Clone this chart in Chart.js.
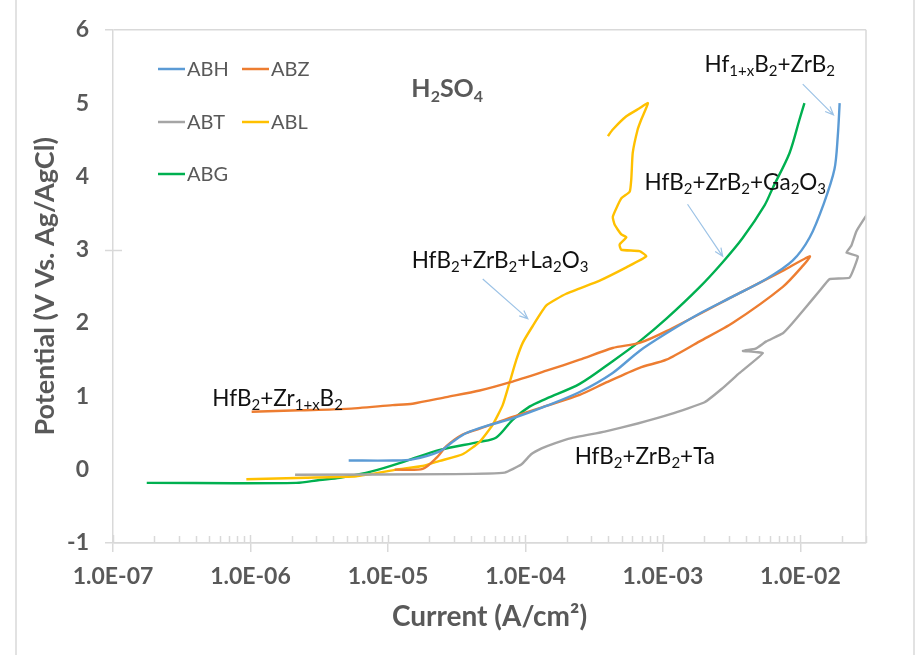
<!DOCTYPE html>
<html>
<head>
<meta charset="utf-8">
<script src="https://cdn.jsdelivr.net/npm/chart.js@4.4.1/dist/chart.umd.min.js"></script>
<style>
  html, body { margin: 0; padding: 0; background: #fff; }
  #wrap { width: 915px; height: 655px; }
</style>
</head>
<body>
<div id="wrap"><canvas id="polar" width="915" height="655"></canvas></div>
<script>
// Potentiodynamic polarisation curves in H2SO4
const FONT = 'Lato, "Liberation Sans", sans-serif';
const AXIS_GREY = '#595959';
const LINE_GREY = '#d9d9d9';

const xTicks = [1e-7, 1e-6, 1e-5, 1e-4, 1e-3, 1e-2];
const xMin = 1e-7, xMax = 0.03;
const yMin = -1, yMax = 6;

// ABH  (Hf1+xB2 + ZrB2)
const abhCurrent = [5.18e-6, 1.08e-5, 1.51e-5, 2.38e-5, 2.96e-5, 3.72e-5, 5.50e-5, 8.07e-5, 1.42e-4, 2.48e-4,
  4.31e-4, 6.76e-4, 1.06e-3, 1.85e-3, 3.21e-3, 5.65e-3, 8.77e-3, 1.17e-2, 1.48e-2, 1.77e-2, 1.87e-2, 1.93e-2];
const abhPotential = [0.125, 0.125, 0.14, 0.25, 0.38, 0.50, 0.61, 0.70, 0.87, 1.06,
  1.32, 1.62, 1.86, 2.13, 2.36, 2.60, 2.85, 3.17, 3.63, 4.10, 4.55, 5.00];

// ABZ  (HfB2 + Zr1+xB2), forward scan then reverse
const abzCurrent = [1.12e-5, 1.79e-5, 2.25e-5, 2.66e-5, 3.49e-5, 4.65e-5, 8.07e-5, 1.42e-4, 2.48e-4, 3.87e-4,
  6.76e-4, 1.06e-3, 1.85e-3, 3.21e-3, 7.41e-3, 1.04e-2, 1.17e-2,
  7.41e-3, 3.21e-3, 1.06e-3, 6.76e-4, 4.31e-4, 2.48e-4, 1.42e-4, 7.67e-5, 4.65e-5, 2.66e-5, 1.51e-5, 1.08e-5,
  4.97e-6, 2.28e-6, 1.02e-6];
const abzPotential = [0.00, 0.01, 0.16, 0.32, 0.48, 0.56, 0.72, 0.87, 1.02, 1.19,
  1.39, 1.50, 1.75, 2.00, 2.49, 2.78, 2.91,
  2.71, 2.36, 1.89, 1.73, 1.66, 1.50, 1.35, 1.19, 1.08, 0.99, 0.90, 0.88,
  0.83, 0.81, 0.79];

// ABT  (HfB2 + ZrB2 + Ta)
const abtCurrent = [2.11e-6, 3.06e-5, 7.07e-5, 9.33e-5, 1.10e-4, 1.31e-4, 1.63e-4, 2.16e-4, 3.77e-4, 6.55e-4,
  1.15e-3, 2.01e-3, 2.67e-3, 3.61e-3, 5.33e-3, 3.82e-3, 4.72e-3, 5.65e-3, 7.46e-3, 8.77e-3,
  1.10e-2, 1.38e-2, 1.63e-2, 2.28e-2, 2.62e-2, 2.16e-2, 2.34e-2, 2.55e-2, 2.93e-2, 3.77e-2];
const abtPotential = [-0.07, -0.06, -0.04, 0.07, 0.21, 0.29, 0.36, 0.43, 0.52, 0.63,
  0.76, 0.92, 1.10, 1.32, 1.59, 1.62, 1.65, 1.75, 1.86, 2.00,
  2.22, 2.44, 2.60, 2.62, 2.91, 2.96, 3.05, 3.25, 3.43, 3.74];

// ABL  (HfB2 + ZrB2 + La2O3)
const ablCurrent = [9.33e-7, 2.55e-6, 5.89e-6, 1.15e-5, 1.79e-5, 2.38e-5, 3.49e-5, 4.65e-5, 5.77e-5, 6.83e-5,
  7.67e-5, 8.59e-5, 9.55e-5, 1.13e-4, 1.42e-4, 1.98e-4, 3.47e-4, 5.42e-4, 7.57e-4, 6.76e-4,
  4.98e-4, 4.84e-4, 5.42e-4, 4.98e-4, 4.46e-4, 4.32e-4, 4.98e-4, 5.73e-4, 5.89e-4, 6.03e-4,
  6.55e-4, 6.97e-4, 7.78e-4, 6.76e-4, 5.42e-4, 4.32e-4, 3.98e-4];
const ablPotential = [-0.13, -0.11, -0.09, 0.00, 0.05, 0.12, 0.21, 0.38, 0.61, 0.88,
  1.19, 1.50, 1.73, 1.96, 2.24, 2.40, 2.58, 2.76, 2.91, 2.98,
  3.00, 3.07, 3.17, 3.21, 3.34, 3.45, 3.70, 3.79, 3.97, 4.32,
  4.64, 4.78, 5.00, 4.93, 4.82, 4.64, 4.55];

// ABG  (HfB2 + ZrB2 + Ga2O3)
const abgCurrent = [1.76e-7, 2.16e-6, 3.18e-6, 4.46e-6, 7.75e-6, 1.36e-5, 2.38e-5, 4.65e-5, 6.14e-5, 8.07e-5,
  1.07e-4, 1.42e-4, 2.48e-4, 4.31e-4, 6.76e-4, 1.06e-3, 1.85e-3, 2.72e-3, 3.80e-3, 5.50e-3,
  6.28e-3, 8.34e-3, 9.86e-3, 1.07e-2];
const abgPotential = [-0.18, -0.18, -0.14, -0.11, -0.02, 0.12, 0.27, 0.38, 0.44, 0.68,
  0.86, 0.97, 1.17, 1.48, 1.75, 2.06, 2.49, 2.83, 3.16, 3.61,
  3.84, 4.32, 4.78, 5.00];

const seriesNames = ['ABH', 'ABZ', 'ABT', 'ABL', 'ABG'];
const seriesColors = ['#5B9BD5', '#ED7D31', '#A5A5A5', '#FFC000', '#00B050'];
const seriesCurrent = [abhCurrent, abzCurrent, abtCurrent, ablCurrent, abgCurrent];
const seriesPotential = [abhPotential, abzPotential, abtPotential, ablPotential, abgPotential];
const seriesTension = [0.3, 0.25, 0.1, 0.15, 0.3];

// composition labels, anchored at (current, potential); _x / _{..} = subscript
const noteText = ['Hf_{1+x}B_2+ZrB_2', 'HfB_2+ZrB_2+Ga_2O_3', 'HfB_2+ZrB_2+La_2O_3', 'HfB_2+Zr_{1+x}B_2', 'HfB_2+ZrB_2+Ta'];
const noteCurrent = [2.01e-3, 7.36e-4, 1.49e-5, 5.28e-7, 2.28e-4];
const notePotential = [5.42, 3.82, 2.75, 0.87, 0.08];

// callout arrows: [fromCurrent, fromPotential, toCurrent, toPotential]
const arrows = [
  [1.04e-2, 5.26, 1.74e-2, 4.84],
  [1.51e-3, 3.62, 2.72e-3, 2.91],
  [4.89e-5, 2.60, 1.04e-4, 2.06]
];

const acidLabel = 'H_2SO_4';
const acidAt = [1.48e-5, 5.09];

// legend grid: column x, row y (canvas px)
const legendCols = [158, 242];
const legendRows = [69, 122, 174];

const fmtSci = v => {
  const e = Math.round(Math.log10(v));
  return '1.0E' + (e < 0 ? '-' : '+') + String(Math.abs(e)).padStart(2, '0');
};

function drawRich(g, str, x, y, size, weight, subSize, drop) {
  const parts = str.split(/_\{([^}]*)\}|_(.)/);
  let cx = x;
  for (let i = 0; i < parts.length; i += 3) {
    if (parts[i]) {
      g.font = `${weight} ${size}px ${FONT}`;
      g.fillText(parts[i], cx, y);
      cx += g.measureText(parts[i]).width;
    }
    const sub = parts[i + 1] ?? parts[i + 2];
    if (sub) {
      g.font = `${weight} ${subSize}px ${FONT}`;
      g.fillText(sub, cx, y + drop);
      cx += g.measureText(sub).width;
    }
  }
}

const frame = {
  id: 'frame',
  beforeDraw(chart) {
    const g = chart.ctx;
    g.save();
    g.strokeStyle = LINE_GREY;
    g.lineWidth = 1.5;
    g.beginPath();
    g.moveTo(16, 0); g.lineTo(16, chart.height);
    g.moveTo(914, 0); g.lineTo(914, chart.height);
    g.stroke();
    g.restore();
  },
  afterDraw(chart) {
    const { left, right, top, bottom } = chart.chartArea;
    const x = chart.scales.x, y = chart.scales.y;
    const g = chart.ctx;
    g.save();
    g.strokeStyle = LINE_GREY;
    g.lineWidth = 1.5;
    g.beginPath();
    // right edge of plot
    g.moveTo(right, top); g.lineTo(right, bottom);
    // short mark on the y axis at 3 V
    const y3 = Math.round(y.getPixelForValue(3)) + 0.5;
    g.moveTo(left - 8, y3); g.lineTo(left + 9, y3);
    // log minor ticks + inner part of decade ticks
    for (const d of xTicks) {
      for (let m = 1; m <= 9; m++) {
        const v = d * m;
        if (v > xMax) break;
        const px = Math.round(x.getPixelForValue(v)) + 0.5;
        g.moveTo(px, bottom); g.lineTo(px, bottom - (m === 1 ? 8 : 7));
      }
    }
    g.stroke();

    // legend
    g.lineWidth = 2.5;
    g.font = `20px ${FONT}`;
    g.textBaseline = 'middle';
    chart.data.datasets.forEach((ds, i) => {
      const lx = legendCols[i % 2], ly = legendRows[Math.floor(i / 2)];
      g.strokeStyle = ds.borderColor;
      g.beginPath(); g.moveTo(lx, ly); g.lineTo(lx + 27, ly); g.stroke();
      g.fillStyle = AXIS_GREY;
      g.fillText(ds.label, lx + 29, ly + 1);
    });

    // acid label
    g.textBaseline = 'alphabetic';
    g.fillStyle = AXIS_GREY;
    drawRich(g, acidLabel, x.getPixelForValue(acidAt[0]), y.getPixelForValue(acidAt[1]), 25, 'bold', 16, 5);

    // composition labels
    g.fillStyle = '#111';
    noteText.forEach((t, i) => {
      drawRich(g, t, x.getPixelForValue(noteCurrent[i]), y.getPixelForValue(notePotential[i]), 22.5, 'normal', 15, 4);
    });

    // arrows
    g.strokeStyle = '#9dc3e6';
    g.lineWidth = 1.2;
    arrows.forEach(([c0, p0, c1, p1]) => {
      const x0 = x.getPixelForValue(c0), y0 = y.getPixelForValue(p0);
      const x1 = x.getPixelForValue(c1), y1 = y.getPixelForValue(p1);
      const a = Math.atan2(y1 - y0, x1 - x0);
      g.beginPath();
      g.moveTo(x0, y0); g.lineTo(x1, y1);
      g.moveTo(x1 - 9 * Math.cos(a - 0.4), y1 - 9 * Math.sin(a - 0.4));
      g.lineTo(x1, y1);
      g.lineTo(x1 - 9 * Math.cos(a + 0.4), y1 - 9 * Math.sin(a + 0.4));
      g.stroke();
    });
    g.restore();
  }
};

const datasets = seriesNames.map((name, i) => ({
  label: name,
  data: seriesCurrent[i].map((c, k) => ({ x: c, y: seriesPotential[i][k] })),
  borderColor: seriesColors[i],
  backgroundColor: seriesColors[i],
  borderWidth: 2.4,
  showLine: true,
  pointRadius: 0,
  tension: seriesTension[i]
}));

new Chart(document.getElementById('polar'), {
  type: 'scatter',
  data: { datasets },
  options: {
    responsive: false,
    animation: false,
    devicePixelRatio: 1,
    layout: { padding: { left: 0, right: 49, top: 22, bottom: 0 } },
    plugins: { legend: { display: false }, tooltip: { enabled: false } },
    scales: {
      x: {
        type: 'logarithmic',
        min: xMin,
        max: xMax,
        afterBuildTicks: s => { s.ticks = xTicks.map(v => ({ value: v })); },
        afterFit: s => { s.height = 112; },
        border: { color: LINE_GREY, width: 1.5 },
        grid: { drawOnChartArea: false, color: LINE_GREY, tickLength: 9, lineWidth: 1.5 },
        ticks: {
          autoSkip: false, maxRotation: 0, padding: 11,
          color: AXIS_GREY, font: { family: FONT, size: 23, weight: 'bold' },
          callback: v => fmtSci(v)
        },
        title: {
          display: true, text: 'Current (A/cm²)', color: AXIS_GREY,
          font: { family: FONT, size: 28, weight: 'bold' }, padding: { top: 0, bottom: 21 }
        }
      },
      y: {
        min: yMin,
        max: yMax,
        afterFit: s => { s.width = 113; },
        border: { color: LINE_GREY, width: 1.5 },
        grid: {
          color: c => (c.tick && (c.tick.value === yMax || c.tick.value === yMin)) ? LINE_GREY : 'transparent',
          tickLength: 8, lineWidth: 1.5
        },
        ticks: {
          stepSize: 1, padding: 16,
          color: AXIS_GREY, font: { family: FONT, size: 23, weight: 'bold' }
        },
        title: {
          display: true, text: 'Potential (V Vs. Ag/AgCl)', color: AXIS_GREY,
          font: { family: FONT, size: 27, weight: 'bold' }, padding: { top: 29, bottom: 0 }
        }
      }
    }
  },
  plugins: [frame]
});
</script>
</body>
</html>
